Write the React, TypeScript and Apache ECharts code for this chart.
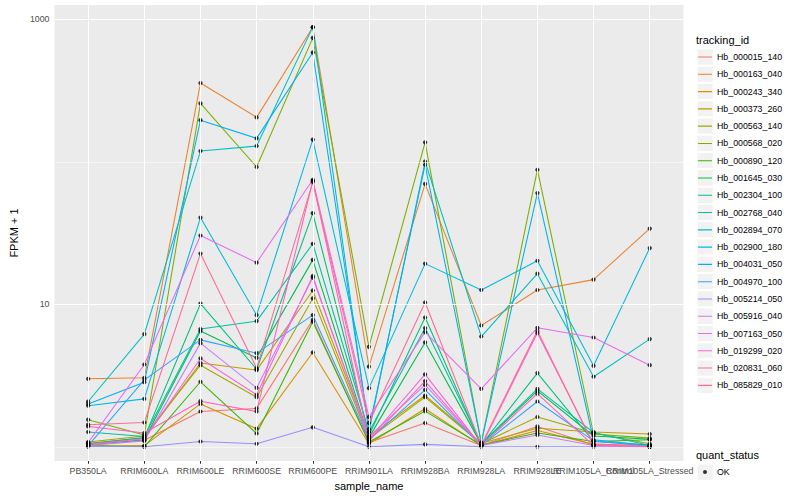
import React, { useEffect, useRef } from "react";
import * as echarts from "echarts";

const FONT = '"Liberation Sans", Arial, Helvetica, sans-serif';

const categories = [
  "PB350LA",
  "RRIM600LA",
  "RRIM600LE",
  "RRIM600SE",
  "RRIM600PE",
  "RRIM901LA",
  "RRIM928BA",
  "RRIM928LA",
  "RRIM928LE",
  "RRIM105LA_Control",
  "RRIM105LA_Stressed",
];

const trackingIds = [
  "Hb_000015_140",
  "Hb_000163_040",
  "Hb_000243_340",
  "Hb_000373_260",
  "Hb_000563_140",
  "Hb_000568_020",
  "Hb_000890_120",
  "Hb_001645_030",
  "Hb_002304_100",
  "Hb_002768_040",
  "Hb_002894_070",
  "Hb_002900_180",
  "Hb_004031_050",
  "Hb_004970_100",
  "Hb_005214_050",
  "Hb_005916_040",
  "Hb_007163_050",
  "Hb_019299_020",
  "Hb_020831_060",
  "Hb_085829_010",
];

const colors = [
  "#F8766D", "#EA8331", "#D89000", "#C09B00", "#A3A500",
  "#7CAE00", "#39B600", "#00BB4E", "#00BF7D", "#00C1A3",
  "#00BFC4", "#00BAE0", "#00B0F6", "#35A2FF", "#9590FF",
  "#C77CFF", "#E76BF3", "#FA62DB", "#FF62BC", "#FF6C91",
];

// FPKM + 1 per sample, in the order of `categories`
const hb000015_140 = [1.05, 1.11, 1.77, 1.86, 7.78, 1.07, 1.47, 1.02, 1.39, 1.03, 1.0];
const hb000163_040 = [3.0, 3.05, 357, 205, 880, 3.65, 70, 7.1, 12.6, 14.9, 34];
const hb000243_340 = [1.01, 1.02, 2.0, 1.34, 4.59, 1.05, 1.85, 1.02, 1.3, 1.04, 1.02];
const hb000373_260 = [1.06, 1.15, 3.87, 3.45, 12.5, 1.18, 2.29, 1.06, 1.35, 1.27, 1.23];
const hb000563_140 = [1.08, 1.19, 3.74, 2.23, 11.0, 1.14, 2.23, 1.05, 1.62, 1.25, 1.05];
const hb000568_020 = [1.55, 1.21, 257, 92, 741, 5.03, 137, 1.07, 88, 1.23, 1.15];
const hb000890_120 = [1.02, 1.0, 2.86, 1.24, 7.54, 1.08, 1.78, 1.03, 1.25, 1.09, 1.12];
const hb001645_030 = [1.03, 1.12, 6.49, 4.21, 20.5, 1.16, 5.4, 1.04, 2.47, 1.19, 1.13];
const hb002304_100 = [1.05, 1.16, 10.1, 3.5, 43.6, 1.21, 8.08, 1.03, 3.29, 1.09, 1.03];
const hb002768_040 = [1.27, 1.18, 6.7, 7.62, 26.6, 1.27, 6.81, 1.05, 2.55, 1.26, 1.02];
const hb002894_070 = [2.08, 6.18, 119, 129, 881, 1.27, 100.5, 5.94, 16.4, 3.1, 5.7];
const hb002900_180 = [1.94, 2.17, 40.6, 8.4, 143, 2.58, 19.3, 12.6, 20.2, 3.7, 24.8];
const hb004031_050 = [2.0, 2.84, 196, 146, 585, 1.33, 95.3, 1.07, 60.3, 1.12, 1.02];
const hb004970_100 = [1.02, 2.95, 5.63, 4.54, 8.4, 1.12, 2.51, 1.02, 2.08, 1.1, 1.01];
const hb005214_050 = [1.0, 1.0, 1.09, 1.05, 1.37, 1.0, 1.04, 1.0, 1.0, 1.0, 1.0];
const hb005916_040 = [1.02, 1.1, 5.34, 2.59, 15.4, 1.18, 2.72, 1.02, 1.21, 1.02, 1.0];
const hb007163_050 = [1.07, 3.78, 30.4, 19.6, 74.8, 1.62, 6.38, 2.55, 6.84, 5.85, 3.74];
const hb019299_020 = [1.04, 1.14, 4.17, 2.32, 15.8, 1.13, 3.22, 1.01, 6.28, 1.05, 1.0];
const hb020831_060 = [1.39, 1.25, 2.09, 1.77, 73.6, 1.1, 2.89, 1.02, 2.36, 1.02, 1.0];
const hb085829_010 = [1.43, 1.48, 22.7, 3.57, 72.1, 1.47, 10.3, 1.03, 6.52, 1.03, 1.01];

const seriesValues = [
  hb000015_140, hb000163_040, hb000243_340, hb000373_260, hb000563_140,
  hb000568_020, hb000890_120, hb001645_030, hb002304_100, hb002768_040,
  hb002894_070, hb002900_180, hb004031_050, hb004970_100, hb005214_050,
  hb005916_040, hb007163_050, hb019299_020, hb020831_060, hb085829_010,
];

const yTickLabels = [10, 1000];
const yMajorGrid = [10, 1000];
const yMinorGrid = [1, 100];
const quantStatus = ["OK"];

const GRID_LEFT = 45;
const GRID_TOP = 5;
const GRID_W = 638.4;
const GRID_H = 456;
const KEY = 17.28;
const LEG_LEFT = 696.5;
const LEG1_TOP = 48.4;
const LEG2_TOP = 463.4;

// Legend icons: tiny corner dots fix the icon box to the full key height.
const LINE_ICON =
  "path://M0,0h0.01v0.01h-0.01Z M0,8.1H14V9.18H0Z M13.99,17.27h0.01v0.01h-0.01Z";
const DOT_ICON =
  "path://M0,0h0.01v0.01h-0.01Z M5,8.64a2,2 0 1,0 4,0a2,2 0 1,0 -4,0Z M13.99,17.27h0.01v0.01h-0.01Z";

export default function App() {
  const ref = useRef<HTMLDivElement>(null);

  useEffect(() => {
    const chart = echarts.init(ref.current as HTMLDivElement, null, { renderer: "svg" });
    const xIdx = categories.map((_, i) => i);
    const evenIdx = xIdx.filter((i) => i % 2 === 0);
    const oddIdx = xIdx.filter((i) => i % 2 === 1);

    const gridMarks: any[] = [
      ...xIdx.map((i) => ({ xAxis: i, lineStyle: { color: "#ffffff", width: 1.07, type: "solid" } })),
      ...yMajorGrid.map((v) => ({ yAxis: v, lineStyle: { color: "#ffffff", width: 1.07, type: "solid" } })),
      ...yMinorGrid.map((v) => ({ yAxis: v, lineStyle: { color: "#ffffff", width: 0.55, type: "solid" } })),
    ];

    const lineSeries = trackingIds.map((name, k) => ({
      type: "line",
      name,
      data: categories.map((_, i) => [i, seriesValues[k][i]]),
      symbol: "none",
      showSymbol: false,
      color: colors[k],
      lineStyle: { width: 1.07, color: colors[k] },
      itemStyle: { color: colors[k] },
      z: 2,
      silent: true,
    }));

    const points: any[] = [];
    seriesValues.forEach((vals) => vals.forEach((v, i) => points.push([i, v])));

    const keyRects: any[] = [];
    trackingIds.forEach((_, k) => {
      keyRects.push({
        type: "rect",
        shape: { x: LEG_LEFT, y: LEG1_TOP + k * KEY, width: KEY, height: KEY },
        style: { fill: "#F2F2F2", stroke: "#ffffff", lineWidth: 2 },
        z: 0,
        silent: true,
      });
    });
    quantStatus.forEach((_, k) => {
      keyRects.push({
        type: "rect",
        shape: { x: LEG_LEFT, y: LEG2_TOP + k * KEY, width: KEY, height: KEY },
        style: { fill: "#F2F2F2", stroke: "#ffffff", lineWidth: 2 },
        z: 0,
        silent: true,
      });
    });

    const labelStyle = {
      formatter: (v: number) => categories[Math.round(v)] ?? "",
      fontSize: 8.8,
      color: "#4D4D4D",
      margin: 5,
      fontFamily: FONT,
      hideOverlap: false,
      showMinLabel: true,
      showMaxLabel: true,
    };

    const option: any = {
      animation: false,
      backgroundColor: "#ffffff",
      textStyle: { fontFamily: FONT },
      title: [
        {
          text: "tracking_id",
          left: 696,
          top: 34,
          padding: 0,
          textStyle: { fontSize: 11, fontWeight: "normal", color: "#000000", fontFamily: FONT },
        },
        {
          text: "quant_status",
          left: 696,
          top: 449,
          padding: 0,
          textStyle: { fontSize: 11, fontWeight: "normal", color: "#000000", fontFamily: FONT },
        },
      ],
      grid: {
        left: GRID_LEFT,
        top: GRID_TOP,
        width: GRID_W,
        height: GRID_H,
        show: true,
        backgroundColor: "#EBEBEB",
        borderWidth: 0,
        containLabel: false,
      },
      xAxis: [
        {
          type: "value",
          min: -0.6,
          max: 10.6,
          position: "bottom",
          axisLine: { show: false },
          splitLine: { show: false },
          axisTick: {
            show: true,
            customValues: xIdx,
            length: 2.75,
            lineStyle: { color: "#333333", width: 1.07 },
          },
          axisLabel: { ...labelStyle, customValues: evenIdx },
          name: "sample_name",
          nameLocation: "middle",
          nameGap: 19,
          nameTextStyle: { fontSize: 11, color: "#000000", fontFamily: FONT },
        },
        {
          type: "value",
          min: -0.6,
          max: 10.6,
          position: "bottom",
          offset: 0,
          axisLine: { show: false },
          splitLine: { show: false },
          axisTick: { show: false },
          axisLabel: { ...labelStyle, customValues: oddIdx },
        },
      ],
      yAxis: {
        type: "log",
        logBase: 10,
        min: 0.795,
        max: 1260,
        axisLine: { show: false },
        splitLine: { show: false },
        minorSplitLine: { show: false },
        axisTick: {
          show: true,
          customValues: yTickLabels,
          length: 2.75,
          lineStyle: { color: "#333333", width: 1.07 },
        },
        axisLabel: {
          customValues: yTickLabels,
          formatter: (v: number) => String(Math.round(v)),
          fontSize: 8.8,
          color: "#4D4D4D",
          margin: 5,
          fontFamily: FONT,
          showMinLabel: true,
          showMaxLabel: true,
        },
        name: "FPKM + 1",
        nameLocation: "middle",
        nameGap: 27,
        nameTextStyle: { fontSize: 11, color: "#000000", fontFamily: FONT },
      },
      legend: [
        {
          orient: "vertical",
          left: 698,
          top: LEG1_TOP,
          padding: 0,
          itemGap: 0,
          itemWidth: 14,
          itemHeight: KEY,
          icon: LINE_ICON,
          itemStyle: { borderWidth: 0 },
          selectedMode: false,
          textStyle: { fontSize: 8.8, color: "#000000", fontFamily: FONT },
          data: trackingIds,
        },
        {
          orient: "vertical",
          left: 698,
          top: LEG2_TOP,
          padding: 0,
          itemGap: 0,
          itemWidth: 14,
          itemHeight: KEY,
          icon: DOT_ICON,
          itemStyle: { borderWidth: 0 },
          selectedMode: false,
          textStyle: { fontSize: 8.8, color: "#000000", fontFamily: FONT },
          data: quantStatus,
        },
      ],
      graphic: { elements: keyRects },
      series: [
        {
          type: "line",
          name: "__grid",
          data: [],
          silent: true,
          z: 1,
          markLine: {
            silent: true,
            symbol: ["none", "none"],
            label: { show: false },
            animation: false,
            data: gridMarks,
          },
        },
        ...lineSeries,
        {
          type: "scatter",
          name: quantStatus[0],
          data: points,
          symbol: "circle",
          symbolSize: 4.2,
          itemStyle: { color: "#000000" },
          z: 3,
          silent: true,
        },
      ],
    };

    chart.setOption(option);
    return () => chart.dispose();
  }, []);

  return (
    <div
      ref={ref}
      style={{ position: "fixed", left: 0, top: 0, width: 800, height: 500 }}
    />
  );
}
